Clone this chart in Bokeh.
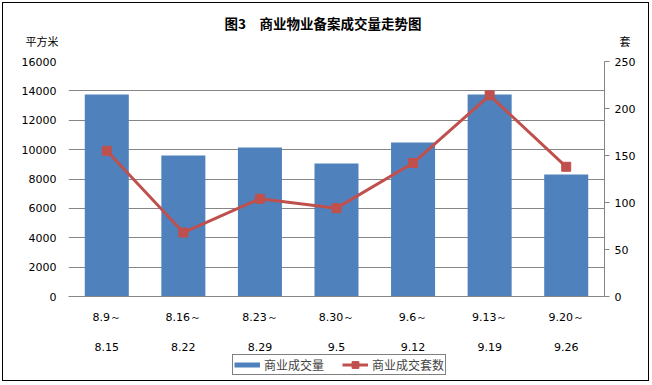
from bokeh.plotting import figure
from bokeh.layouts import column
from bokeh.models import (Range1d, LinearAxis, CategoricalAxis, FactorRange, Legend,
                          LegendItem, Title, ColumnDataSource, FixedTicker)
from bokeh.embed import file_html
from bokeh.resources import INLINE

# ---- data ----
week_start = ["8.9～", "8.16～", "8.23～", "8.30～", "9.6～", "9.13～", "9.20～"]
week_end = ["8.15", "8.22", "8.29", "9.5", "9.12", "9.19", "9.26"]
area = [13750, 9600, 10150, 9050, 10480, 13750, 8300]      # 商业成交量 (平方米)
units = [155, 68, 104, 94, 142, 214, 138]                   # 商业成交套数 (套)
left_ticks = [0, 2000, 4000, 6000, 8000, 10000, 12000, 14000, 16000]
right_ticks = [0, 50, 100, 150, 200, 250]
title_text = "图3　商业物业备案成交量走势图"
left_unit = "平方米"
right_unit = "套"
series_names = ["商业成交量", "商业成交套数"]

src = ColumnDataSource(dict(cat=week_start, area=area, units=units))

CJK = "Noto Sans CJK SC"
NUM = "DejaVu Sans"
GRID = "#868686"
BLUE = "#4F81BD"
RED = "#C0504D"

p = figure(frame_width=536, frame_height=235, x_range=FactorRange(*week_start, range_padding=0),
           y_range=Range1d(0, 16000), output_backend="svg", toolbar_location=None,
           min_border_left=65, min_border_right=44, min_border_top=58, min_border_bottom=62)
p.extra_y_ranges = {"right": Range1d(0, 250)}
p.extra_x_ranges = {"end": FactorRange(*week_end, range_padding=0)}
p.outline_line_color = None
p.background_fill_color = "white"
p.border_fill_color = "white"

# bars
p.vbar(x="cat", top="area", width=0.575, source=src, fill_color=BLUE, line_color=None)
# line
p.line(x="cat", y="units", source=src, y_range_name="right", line_width=3, line_color=RED)
p.scatter(x="cat", y="units", source=src, y_range_name="right", marker="square",
          size=9, fill_color=RED, line_color=RED)

# left axis
ya = p.yaxis[0]
ya.ticker = FixedTicker(ticks=left_ticks)
ya.axis_line_color = None
ya.major_tick_line_color = None
ya.major_tick_out = 0
ya.major_tick_in = 0
ya.minor_tick_line_color = None
ya.major_label_standoff = 12
ya.major_label_text_font = NUM
ya.major_label_text_font_size = "11px"
ya.major_label_text_color = "black"

# right axis
ra = LinearAxis(y_range_name="right", ticker=FixedTicker(ticks=right_ticks))
ra.axis_line_color = GRID
ra.major_tick_line_color = GRID
ra.major_tick_in = 0
ra.major_tick_out = 5
ra.minor_tick_line_color = None
ra.major_label_standoff = 5
ra.major_label_text_font = NUM
ra.major_label_text_font_size = "11px"
ra.major_label_text_color = "black"
p.add_layout(ra, "right")

# x axis, first line of each category label
xa = p.xaxis[0]
xa.axis_line_color = GRID
xa.major_tick_line_color = None
xa.major_tick_out = 0
xa.major_tick_in = 0
xa.minor_tick_line_color = None
xa.major_label_standoff = 14
xa.major_label_text_font = NUM
xa.major_label_text_font_size = "11px"
xa.major_label_text_color = "black"

# second line of each category label
xa2 = CategoricalAxis(x_range_name="end")
xa2.axis_line_color = None
xa2.major_tick_line_color = None
xa2.major_tick_out = 0
xa2.major_tick_in = 0
xa2.minor_tick_line_color = None
xa2.major_label_standoff = 16
xa2.major_label_text_font = NUM
xa2.major_label_text_font_size = "11px"
xa2.major_label_text_color = "black"
p.add_layout(xa2, "below")

p.xgrid.visible = False
p.ygrid.grid_line_color = GRID
p.ygrid.ticker = FixedTicker(ticks=left_ticks)

# titles: main title and a row holding the two unit labels
p.title.text = title_text
p.title.align = "left"
p.title.vertical_align = "bottom"
p.title.offset = 156
p.title.text_font = CJK
p.title.text_font_size = "13.5px"
p.title.text_font_style = "bold"
p.title.text_color = "black"
p.title.standoff = -20

units_row = Title(text=left_unit + "\u3000" * 51 + right_unit, align="left", offset=-43,
                  vertical_align="top", text_font=CJK, text_font_size="11px",
                  text_font_style="normal", text_color="black", standoff=21)
p.add_layout(units_row, "above")

# legend strip (its frame lines up with the chart's frame)
lg = figure(width=645, height=22, x_range=Range1d(0, 1), y_range=Range1d(0, 1),
            x_axis_type=None, y_axis_type=None, output_backend="svg",
            toolbar_location=None, min_border=0)
lg.outline_line_color = None
lg.background_fill_alpha = 0
lg.border_fill_alpha = 0
lg.styles = {"position": "relative", "top": "-5px"}
# legend-only keys, parked outside the visible range
k1 = lg.line(x=[-5, -4], y=[-5, -4], line_width=5, line_color=BLUE)
k2 = lg.line(x=[-5, -4], y=[-5, -4], line_width=3, line_color=RED)
k3 = lg.scatter(x=[-5], y=[-5], marker="square", size=9, fill_color=RED, line_color=RED)

legend = Legend(items=[LegendItem(label=series_names[0], renderers=[k1]),
                       LegendItem(label=series_names[1], renderers=[k2, k3])],
                orientation="horizontal", location=(164, 0))
legend.border_line_color = "black"
legend.border_line_width = 1
legend.padding = 1
legend.spacing = 18
legend.margin = 0
legend.label_standoff = 4
legend.glyph_width = 26
legend.glyph_height = 17
legend.label_height = 17
legend.label_text_font = CJK
legend.label_text_font_size = "12px"
legend.background_fill_color = "white"
legend.background_fill_alpha = 1
lg.add_layout(legend, "center")

layout = column(p, lg, spacing=0,
                styles={"position": "relative", "left": "3px", "top": "3px",
                        "outline": "1px solid black", "outline-offset": "0px"})

open("out.html", "w").write(file_html(layout, INLINE))
